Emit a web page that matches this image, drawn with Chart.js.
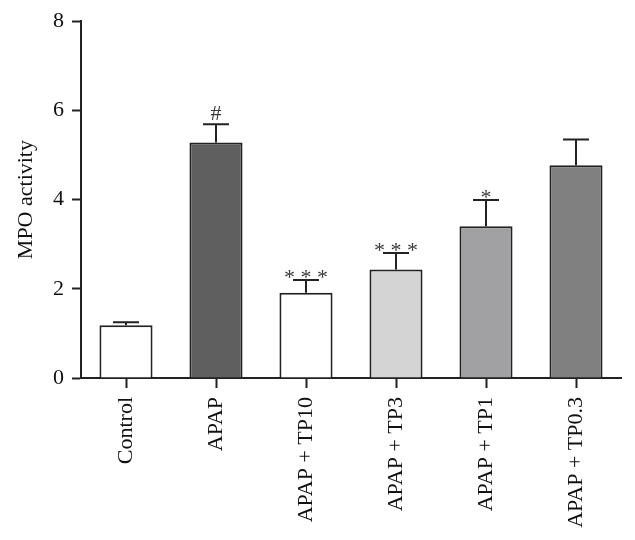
<!DOCTYPE html>
<html>
<head>
<meta charset="utf-8">
<script src="https://cdn.jsdelivr.net/npm/chart.js@4.4.1/dist/chart.umd.min.js"></script>
<style>
  html, body { margin: 0; padding: 0; background: #fff; }
  #wrap { width: 635px; height: 540px; }
</style>
</head>
<body>
<div id="wrap"><canvas id="c" width="635" height="540"></canvas></div>
<script>
const categories = ["Control", "APAP", "APAP + TP10", "APAP + TP3", "APAP + TP1", "APAP + TP0.3"];
const meanValues = [1.18, 5.28, 1.91, 2.43, 3.40, 4.77];
const errorValues = [0.07, 0.41, 0.29, 0.37, 0.59, 0.58];
const significance = ["", "#", "* * *", "* * *", "*", ""];
const barColors = ["#ffffff", "#5f5f5f", "#ffffff", "#d4d4d4", "#a1a1a4", "#808080"];
const yTicks = [0, 2, 4, 6, 8];

const FONT = "'Liberation Serif', 'Times New Roman', serif";
const INK = "#222222";

const errorBarPlugin = {
  id: "errorBars",
  afterDatasetsDraw(chart) {
    const ctx = chart.ctx;
    const meta = chart.getDatasetMeta(0);
    const yScale = chart.scales.y;
    ctx.save();
    ctx.strokeStyle = INK;
    ctx.lineWidth = 2;
    meta.data.forEach((bar, i) => {
      const top = yScale.getPixelForValue(meanValues[i] + errorValues[i]);
      const base = yScale.getPixelForValue(meanValues[i]);
      const half = 13;
      ctx.beginPath();
      ctx.moveTo(bar.x, base);
      ctx.lineTo(bar.x, top);
      ctx.moveTo(bar.x - half, top);
      ctx.lineTo(bar.x + half, top);
      ctx.stroke();
      const label = significance[i];
      if (label) {
        ctx.fillStyle = "#3a3a3a";
        ctx.font = "22px " + FONT;
        ctx.textAlign = "center";
        ctx.textBaseline = "alphabetic";
        const off = label === "#" ? 4 : -4;
        ctx.fillText(label, bar.x, top - off);
      }
    });
    ctx.restore();
  }
};

new Chart(document.getElementById("c"), {
  type: "bar",
  data: {
    labels: categories,
    datasets: [{
      data: meanValues,
      backgroundColor: barColors,
      borderColor: INK,
      borderWidth: 2,
      barPercentage: 0.59,
      categoryPercentage: 1.0
    }]
  },
  options: {
    responsive: false,
    animation: false,
    devicePixelRatio: 1,
    layout: { padding: { top: 10, right: 14, left: 10, bottom: 0 } },
    plugins: {
      legend: { display: false },
      tooltip: { enabled: false }
    },
    scales: {
      x: {
        offset: true,
        grid: {
          offset: false,
          drawOnChartArea: false,
          drawTicks: true,
          tickLength: 10,
          tickWidth: 2,
          tickColor: INK
        },
        border: { display: true, color: INK, width: 2 },
        ticks: {
          color: "#111",
          font: { family: FONT, size: 22 },
          maxRotation: 90,
          minRotation: 90,
          padding: 9,
          autoSkip: false
        },
        afterFit(scale) { scale.height = 162; }
      },
      y: {
        min: 0,
        max: 8,
        afterBuildTicks(scale) { scale.ticks = yTicks.map(v => ({ value: v })); },
        grid: {
          drawOnChartArea: false,
          drawTicks: true,
          tickLength: 9,
          tickWidth: 2,
          tickColor: INK
        },
        border: { display: true, color: INK, width: 2 },
        ticks: {
          color: "#111",
          font: { family: FONT, size: 22 },
          padding: 8
        },
        title: {
          display: true,
          text: "MPO activity",
          color: "#111",
          font: { family: FONT, size: 22 },
          padding: { top: 3, bottom: 4 }
        },
        afterFit(scale) { scale.width = 71; }
      }
    }
  },
  plugins: [errorBarPlugin]
});
</script>
</body>
</html>
